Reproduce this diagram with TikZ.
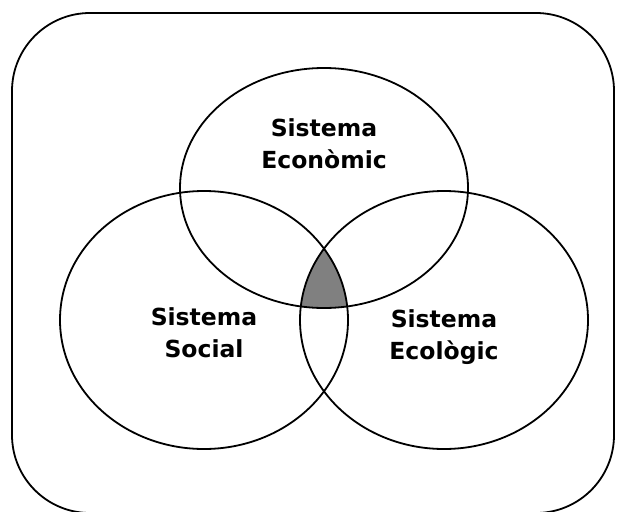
\documentclass[tikz,border=0pt]{standalone}
\usepackage{fontspec}
\setmainfont{DejaVu Sans}
\begin{document}
\begin{tikzpicture}[x=1pt, y=-1pt, line width=1.8pt,
		sysname/.style={align=center, font=\bfseries\fontsize{23.5}{32}\selectfont}]
				
				\useasboundingbox (0,0) rectangle (626,511);
				
				% Frame
				\draw[rounded corners=78pt] (12,13) rectangle (614,513);
				
				% Centres of the three systems
				\coordinate (E) at (324,188);
				\coordinate (S) at (204,320);
				\coordinate (L) at (444,320);
				
				% Common part
				\begin{scope}
					\clip (E) ellipse [x radius=144, y radius=120];
					\clip (S) ellipse [x radius=144, y radius=129];
					\fill[black!50] (L) ellipse [x radius=144, y radius=129];
				\end{scope}
				
				% Ellipses
				\draw (E) ellipse [x radius=144, y radius=120];
				\draw (S) ellipse [x radius=144, y radius=129];
				\draw (L) ellipse [x radius=144, y radius=129];
				
				% Labels
				\node[sysname] (eco) at (324,144) {Sistema\\Econòmic};
				\node[sysname] (soc) at (204,333) {Sistema\\Social};
				\node[sysname] (ecol) at (444,337) {Sistema\\Ecològic};
				
			\end{tikzpicture}
\end{document}
